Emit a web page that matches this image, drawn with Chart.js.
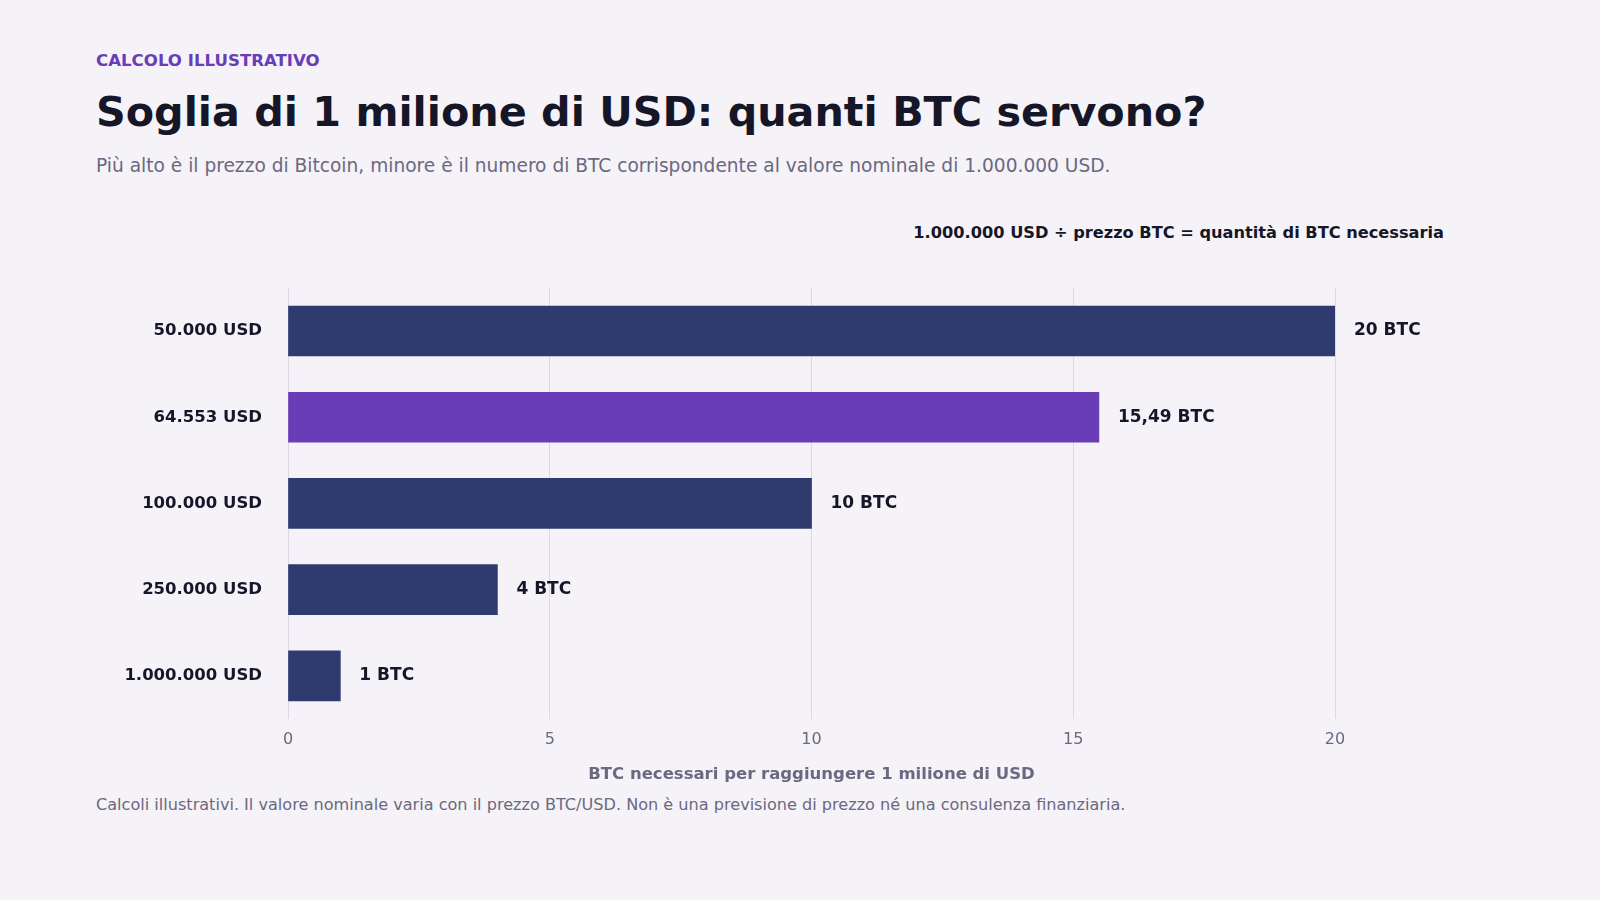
<!DOCTYPE html>
<html>
<head>
<meta charset="utf-8">
<script src="https://cdn.jsdelivr.net/npm/chart.js@4"></script>
<style>
  body { margin: 0; width: 1600px; height: 900px; background: #f5f3f7; font-family: "DejaVu Sans", sans-serif; position: relative; overflow: hidden; }
  .t { position: absolute; white-space: nowrap; }
  #wrap { position: absolute; left: 0; top: 260px; width: 1600px; height: 540px; }
</style>
</head>
<body>
<div class="t" style="left:96px;top:51px;font-size:16.6px;font-weight:bold;color:#6a3db8;">CALCOLO ILLUSTRATIVO</div>
<div class="t" style="left:96px;top:88px;font-size:41.3px;font-weight:bold;color:#161629;">Soglia di 1 milione di USD: quanti BTC servono?</div>
<div class="t" style="left:96px;top:155px;font-size:18.6px;color:#6b6880;">Più alto è il prezzo di Bitcoin, minore è il numero di BTC corrispondente al valore nominale di 1.000.000 USD.</div>
<div class="t" style="right:156px;top:223px;font-size:16.2px;font-weight:bold;color:#161629;">1.000.000 USD ÷ prezzo BTC = quantità di BTC necessaria</div>
<div class="t" style="left:96px;top:795px;font-size:16.1px;color:#6b6880;">Calcoli illustrativi. Il valore nominale varia con il prezzo BTC/USD. Non è una previsione di prezzo né una consulenza finanziaria.</div>
<div id="wrap"><canvas id="myChart"></canvas></div>
<script>
const priceLabels = ["50.000 USD", "64.553 USD", "100.000 USD", "250.000 USD", "1.000.000 USD"];
const btcValues = [20, 15.49, 10, 4, 1];
const valueLabels = ["20 BTC", "15,49 BTC", "10 BTC", "4 BTC", "1 BTC"];
const barColors = ["#2f3a6e", "#6a3db8", "#2f3a6e", "#2f3a6e", "#2f3a6e"];

const valueLabelPlugin = {
  id: "valueLabels",
  afterDatasetsDraw(chart) {
    const ctx = chart.ctx;
    const meta = chart.getDatasetMeta(0);
    ctx.save();
    ctx.font = "bold 17px 'DejaVu Sans'";
    ctx.fillStyle = "#161629";
    ctx.textBaseline = "middle";
    meta.data.forEach((bar, i) => {
      ctx.fillText(valueLabels[i], bar.x + 19, bar.y);
    });
    ctx.restore();
  },
};

function chart() {
  const ctx = document.getElementById("myChart");
  Chart.defaults.font.family = "'DejaVu Sans', sans-serif";
  new Chart(ctx, {
    type: "bar",
    data: {
      labels: priceLabels,
      datasets: [{ data: btcValues, backgroundColor: barColors, barThickness: 50 }],
    },
    options: {
      indexAxis: "y",
      responsive: true,
      maintainAspectRatio: false,
      animation: false,
      layout: { padding: { top: 0, right: 265, left: 0, bottom: 0 } },
      plugins: { legend: { display: false }, tooltip: { enabled: false } },
      scales: {
        x: {
          min: 0,
          max: 20,
          ticks: { stepSize: 5, color: "#6b6880", font: { size: 16 }, padding: 11 },
          grid: { color: "#dcd8e8", drawTicks: false },
          border: { display: false },
          title: {
            display: true,
            text: "BTC necessari per raggiungere 1 milione di USD",
            color: "#6b6880",
            font: { size: 16.5, weight: "bold" },
            padding: { top: 0, bottom: 15 },
          },
          afterFit(scale) { scale.height = 81; },
        },
        y: {
          ticks: { color: "#161629", font: { size: 16.5, weight: "bold" }, padding: 18 },
          grid: { display: false },
          border: { display: false },
          afterFit(scale) { scale.width = 288; },
        },
      },
    },
    plugins: [valueLabelPlugin],
  });
}
chart();
</script>
</body>
</html>
